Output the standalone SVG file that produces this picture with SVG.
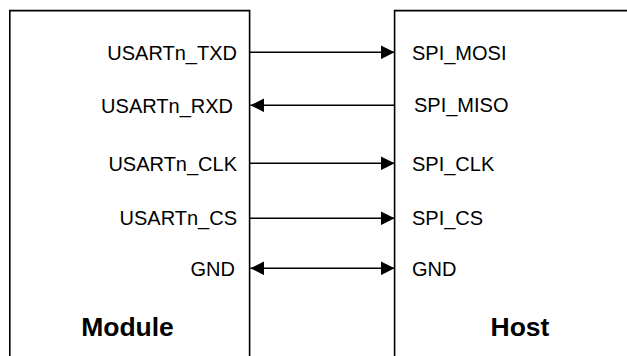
<svg xmlns="http://www.w3.org/2000/svg" width="627" height="356" viewBox="0 0 627 356">
  <style>
    .box { fill: #ffffff; stroke: #000000; stroke-width: 1.6; }
    .sig { font-family: "Liberation Sans", Arial, sans-serif; font-size: 20px; fill: #000000; }
    .title { font-family: "Liberation Sans", Arial, sans-serif; font-size: 26.5px; font-weight: bold; fill: #000000; }
    .wire { stroke: #000000; stroke-width: 1.4; fill: none; }
  </style>
  <defs>
    <marker id="head" viewBox="0 0 14 14" refX="14" refY="7" markerWidth="14" markerHeight="14" markerUnits="userSpaceOnUse" orient="auto-start-reverse">
      <path d="M0,0 L14,7 L0,14 Z" fill="#000000"/>
    </marker>
  </defs>
  <rect width="627" height="356" fill="#ffffff"/>

  <!-- Module block -->
  <g id="module">
    <path class="box" d="M9.8,360 V10.6 H249.6 V360"/>
    <text class="sig" x="237" y="60" text-anchor="end">USARTn_TXD</text>
    <text class="sig" x="233" y="113" text-anchor="end">USARTn_RXD</text>
    <text class="sig" x="237" y="171" text-anchor="end">USARTn_CLK</text>
    <text class="sig" x="237" y="225" text-anchor="end">USARTn_CS</text>
    <text class="sig" x="235" y="276" text-anchor="end">GND</text>
    <text class="title" x="127.5" y="336" text-anchor="middle">Module</text>
  </g>

  <!-- Host block -->
  <g id="host">
    <path class="box" d="M394.6,360 V10.6 H640"/>
    <text class="sig" x="412" y="60">SPI_MOSI</text>
    <text class="sig" x="414" y="112">SPI_MISO</text>
    <text class="sig" x="412" y="171">SPI_CLK</text>
    <text class="sig" x="412" y="225">SPI_CS</text>
    <text class="sig" x="412" y="276">GND</text>
    <text class="title" x="520" y="336" text-anchor="middle">Host</text>
  </g>

  <!-- Signal connections -->
  <g id="connectors">
    <line class="wire" x1="249.6" y1="52.3" x2="394.6" y2="52.3" marker-end="url(#head)"/>
    <line class="wire" x1="394.6" y1="105.3" x2="250.4" y2="105.3" marker-end="url(#head)"/>
    <line class="wire" x1="249.6" y1="163.3" x2="394.6" y2="163.3" marker-end="url(#head)"/>
    <line class="wire" x1="249.6" y1="218.3" x2="394.6" y2="218.3" marker-end="url(#head)"/>
    <line class="wire" x1="250.4" y1="268.3" x2="394.6" y2="268.3" marker-start="url(#head)" marker-end="url(#head)"/>
  </g>
</svg>
